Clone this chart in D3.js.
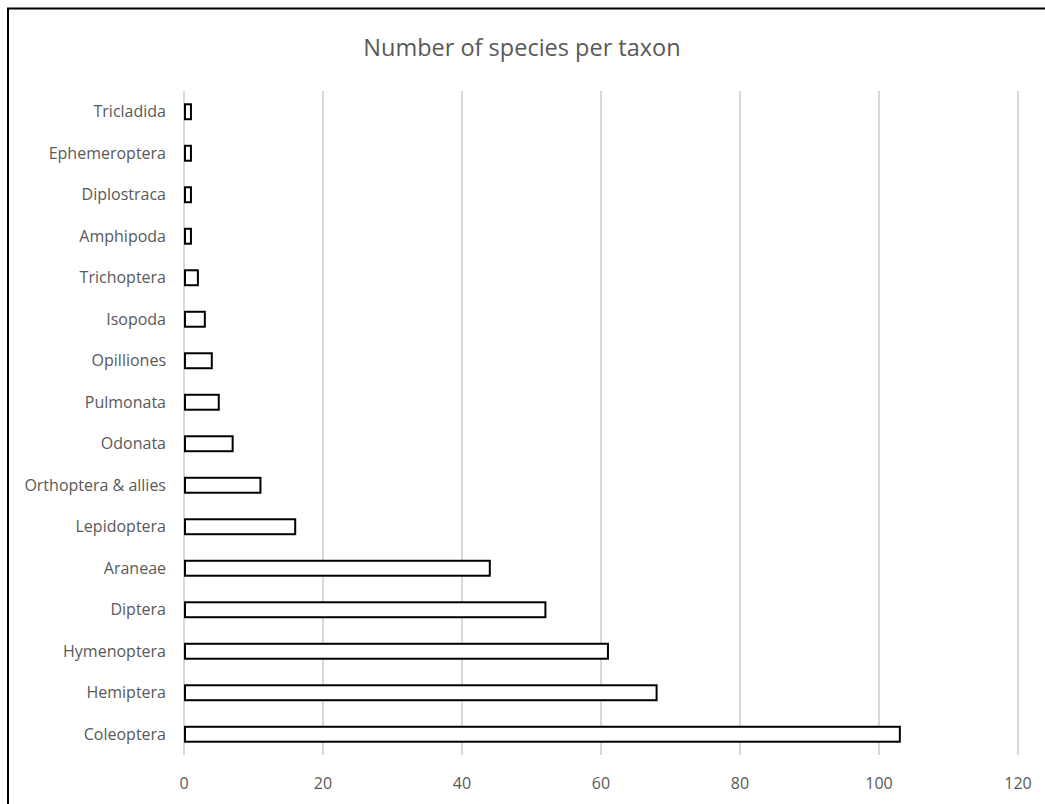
<!DOCTYPE html>
<html>
<head>
<meta charset="utf-8">
<script src="https://cdn.jsdelivr.net/npm/d3@7"></script>
<style>
  body { margin: 0; background: #fff; }
  text { font-family: "Open Sans", sans-serif; fill: #595959; }
</style>
</head>
<body>
<div id="chart"></div>
<script>
const taxa = ["Tricladida", "Ephemeroptera", "Diplostraca", "Amphipoda", "Trichoptera", "Isopoda",
  "Opilliones", "Pulmonata", "Odonata", "Orthoptera & allies", "Lepidoptera", "Araneae",
  "Diptera", "Hymenoptera", "Hemiptera", "Coleoptera"];
const species = [1, 1, 1, 1, 2, 3, 4, 5, 7, 11, 16, 44, 52, 61, 68, 103];
const ticks = [0, 20, 40, 60, 80, 100, 120];
const title = "Number of species per taxon";

var width = 1045, height = 804;
var margin = { top: 91, right: 27, bottom: 49, left: 184 };

var svg = d3.select("#chart").append("svg")
  .attr("width", width)
  .attr("height", height);

// chart frame (cut off on right and bottom, like the source)
svg.append("rect")
  .attr("x", 8).attr("y", 8.5)
  .attr("width", width).attr("height", height)
  .attr("fill", "none").attr("stroke", "#000").attr("stroke-width", 2);

svg.append("text")
  .attr("x", 522).attr("y", 56)
  .attr("text-anchor", "middle")
  .style("font-size", "23.5px")
  .text(title);

var x = d3.scaleLinear().domain([0, 120]).range([margin.left, width - margin.right]);
var y = d3.scaleBand().domain(taxa).range([margin.top, height - margin.bottom]).paddingInner(0.64).paddingOuter(0.32);

// gridlines
svg.append("g").selectAll("line")
  .data(ticks).enter().append("line")
  .attr("x1", d => x(d)).attr("x2", d => x(d))
  .attr("y1", margin.top).attr("y2", height - margin.bottom)
  .attr("stroke", "#d9d9d9").attr("stroke-width", 2);

// x tick labels
svg.append("g").selectAll("text")
  .data(ticks).enter().append("text")
  .attr("x", d => x(d)).attr("y", 789)
  .attr("text-anchor", "middle")
  .style("font-size", "16px")
  .text(d => d);

// category labels
svg.append("g").selectAll("text")
  .data(taxa).enter().append("text")
  .attr("x", 166)
  .attr("y", d => y(d) + y.bandwidth() / 2)
  .attr("dy", "0.35em")
  .attr("text-anchor", "end")
  .style("font-size", "16px")
  .text(d => d);

// bars
svg.append("g").selectAll("rect")
  .data(taxa).enter().append("rect")
  .attr("x", x(0) + 1)
  .attr("y", d => y(d))
  .attr("width", (d, i) => x(species[i]) - x(0) - 1)
  .attr("height", y.bandwidth())
  .attr("fill", "#fff")
  .attr("stroke", "#000")
  .attr("stroke-width", 2);
</script>
</body>
</html>
